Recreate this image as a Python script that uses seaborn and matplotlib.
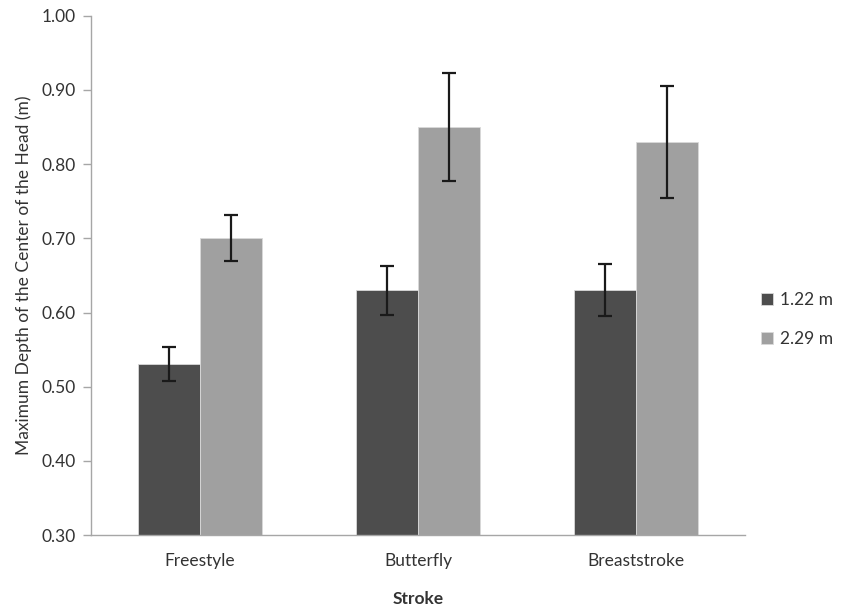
import pandas as pd
import numpy as np
import matplotlib.pyplot as plt
import seaborn as sns

# Data
strokes = ["Freestyle", "Butterfly", "Breaststroke"]
depth_122 = [0.53, 0.63, 0.63]
depth_229 = [0.70, 0.85, 0.83]
err_122 = [0.023, 0.033, 0.035]
err_229 = [0.031, 0.073, 0.075]
series = ["1.22 m", "2.29 m"]

df = pd.DataFrame({
    "Stroke": strokes * 2,
    "Depth": depth_122 + depth_229,
    "Err": err_122 + err_229,
    "Series": [series[0]] * 3 + [series[1]] * 3,
})

sns.set_style("white")
plt.rcParams['font.family'] = ['Lato', 'DejaVu Sans']

fig = plt.figure(figsize=(8.41, 6.08), dpi=100)
ax = fig.add_axes([0.108, 0.120, 0.778, 0.854])

palette = {series[0]: "#4d4d4d", series[1]: "#a0a0a0"}
sns.barplot(data=df, x="Stroke", y="Depth", hue="Series", palette=palette,
            width=0.57, gap=0, saturation=1, edgecolor="#d9d9d9", linewidth=0.6,
            errorbar=None, ax=ax)

# Error bars placed at each bar's center
for container, s in zip(ax.containers, series):
    sub = df[df["Series"] == s]
    xs = [p.get_x() + p.get_width() / 2 for p in container.patches]
    ax.errorbar(xs, sub["Depth"].values, yerr=sub["Err"].values, fmt="none",
                ecolor="#1a1a1a", elinewidth=1.6, capsize=5, capthick=1.6)

ax.set_ylim(0.30, 1.00)
ax.set_xlim(-0.5, 2.5)
ax.set_yticks(np.arange(0.30, 1.001, 0.10))
ax.set_yticklabels([f"{v:.2f}" for v in np.arange(0.30, 1.001, 0.10)], fontsize=12.5, color="#333333")
ax.set_xticks([0, 1, 2])
ax.set_xticklabels(strokes, fontsize=12.5, color="#333333")
ax.set_xticks([0.5, 1.5, 2.5], minor=True)
ax.tick_params(axis="x", which="major", length=0, pad=13)
ax.tick_params(axis="x", which="minor", length=6, color="#a6a6a6", width=1)
ax.tick_params(axis="y", length=6, color="#a6a6a6", width=1, left=True, direction="out", pad=5)

for side in ["top", "right"]:
    ax.spines[side].set_visible(False)
for side in ["left", "bottom"]:
    ax.spines[side].set_color("#a6a6a6")
    ax.spines[side].set_linewidth(1)

ax.set_xlabel("Stroke", fontsize=12.5, fontweight="bold", color="#333333", labelpad=16)
ax.set_ylabel("Maximum Depth of the Center of the Head (m)", fontsize=12.5, color="#333333", labelpad=7)

ax.legend(loc="center left", bbox_to_anchor=(1.0, 0.415), frameon=False,
          fontsize=12.5, handlelength=0.7, handleheight=0.7, handletextpad=0.4,
          labelspacing=1.3, labelcolor="#333333")

fig.savefig("out.png", dpi=100)
